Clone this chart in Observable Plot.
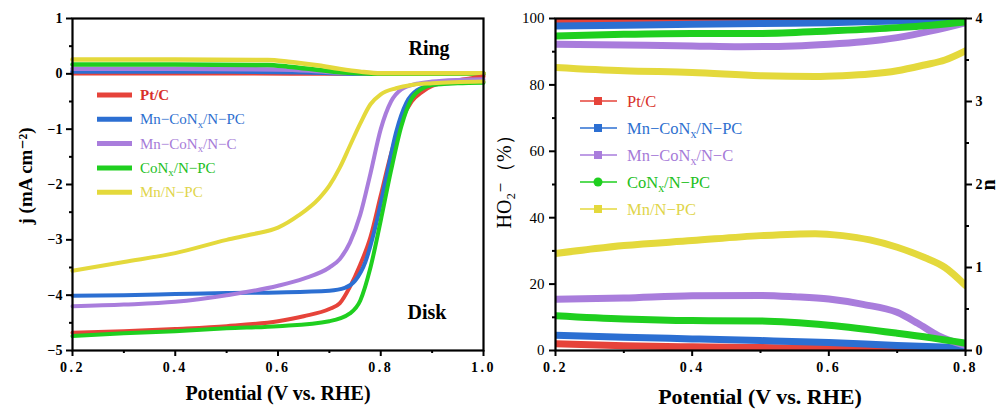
<!DOCTYPE html>
<html>
<head>
<meta charset="utf-8">
<script src="https://cdn.jsdelivr.net/npm/d3@7"></script>
<script src="https://cdn.jsdelivr.net/npm/@observablehq/plot@0.6"></script>
<style>
  html, body { margin: 0; padding: 0; background: #fff; }
  #wrap { position: relative; width: 1000px; height: 411px; overflow: hidden; background: #fff; }
  #left, #right { position: absolute; top: 0; }
  #left { left: 0; }
  #right { left: 500px; }
  svg { overflow: visible; }
  svg text { font-family: "Liberation Serif", "DejaVu Serif", serif; }
</style>
</head>
<body>
<div id="wrap"><div id="left"></div><div id="right"></div></div>
<script>
// ---------- series meta ----------
const seriesNames = ["Pt/C", "Mn−CoN_x/N−PC", "Mn−CoN_x/N−C", "CoN_x/N−PC", "Mn/N−PC"];
const lineColors = ["#e6433a", "#2c6fd2", "#a97ddc", "#1fcf1f", "#e4d93c"];
const textColors = ["#d8302a", "#2e6fcf", "#a67bd8", "#22c022", "#e0d54a"];
const rightMarkers = ["square", "square", "square", "circle", "square"];

// ---------- left panel: disk (LSV) currents, j (mA cm-2) vs V ----------
const diskPtC = [[0.2,-4.68],[0.3,-4.65],[0.4,-4.61],[0.5,-4.56],[0.6,-4.47],[0.65,-4.38],[0.7,-4.25],[0.72,-4.15],[0.74,-3.85],[0.76,-3.45],[0.78,-2.95],[0.8,-2.2],[0.82,-1.45],[0.84,-0.85],[0.86,-0.5],[0.88,-0.33],[0.9,-0.22],[0.95,-0.12],[1.0,-0.05]];
const diskMnCoNPC = [[0.2,-4.01],[0.3,-4.0],[0.4,-3.98],[0.5,-3.96],[0.6,-3.95],[0.7,-3.92],[0.73,-3.87],[0.75,-3.74],[0.77,-3.4],[0.79,-2.75],[0.81,-1.9],[0.83,-1.05],[0.85,-0.52],[0.87,-0.3],[0.9,-0.2],[0.95,-0.16],[1.0,-0.14]];
const diskMnCoNC = [[0.2,-4.2],[0.3,-4.17],[0.4,-4.12],[0.5,-4.0],[0.6,-3.83],[0.65,-3.7],[0.7,-3.5],[0.72,-3.35],[0.74,-3.05],[0.76,-2.55],[0.78,-1.8],[0.8,-1.0],[0.82,-0.5],[0.84,-0.28],[0.87,-0.18],[0.9,-0.14],[0.95,-0.11],[1.0,-0.1]];
const diskCoNPC = [[0.2,-4.74],[0.3,-4.69],[0.4,-4.65],[0.5,-4.6],[0.6,-4.56],[0.7,-4.47],[0.74,-4.33],[0.76,-4.1],[0.78,-3.5],[0.8,-2.65],[0.82,-1.75],[0.84,-0.95],[0.86,-0.45],[0.88,-0.27],[0.9,-0.2],[0.95,-0.17],[1.0,-0.16]];
const diskMnNPC = [[0.2,-3.56],[0.3,-3.4],[0.4,-3.24],[0.5,-3.0],[0.55,-2.9],[0.6,-2.78],[0.64,-2.56],[0.68,-2.25],[0.7,-2.02],[0.72,-1.7],[0.74,-1.3],[0.76,-0.9],[0.78,-0.55],[0.8,-0.37],[0.83,-0.26],[0.86,-0.2],[0.9,-0.17],[1.0,-0.14]];

// ---------- left panel: ring currents ----------
const ringPtC = [[0.2,0.01],[0.5,0.01],[0.7,0.005],[1.0,0.0]];
const ringMnCoNPC = [[0.2,0.04],[0.5,0.04],[0.65,0.03],[0.72,0.01],[0.78,0.0],[1.0,0.0]];
const ringMnCoNC = [[0.2,0.09],[0.4,0.09],[0.6,0.08],[0.66,0.06],[0.72,0.02],[0.76,0.01],[0.8,0.0],[1.0,0.0]];
const ringCoNPC = [[0.2,0.17],[0.4,0.17],[0.58,0.16],[0.62,0.13],[0.68,0.07],[0.72,0.03],[0.76,0.01],[0.8,0.0],[1.0,0.0]];
const ringMnNPC = [[0.2,0.26],[0.4,0.26],[0.58,0.25],[0.62,0.22],[0.68,0.15],[0.72,0.09],[0.76,0.04],[0.8,0.01],[0.85,0.01],[1.0,0.01]];

// ---------- right panel: HO2- yield (%) ----------
const ho2PtC = [[0.2,2.0],[0.3,1.4],[0.4,1.1],[0.5,0.9],[0.6,0.6],[0.7,0.4],[0.8,0.2]];
const ho2MnCoNPC = [[0.2,4.6],[0.3,4.0],[0.4,3.5],[0.5,3.0],[0.6,2.4],[0.7,1.5],[0.8,0.8]];
const ho2MnCoNC = [[0.2,15.4],[0.3,15.8],[0.4,16.5],[0.5,16.6],[0.55,16.2],[0.6,15.5],[0.65,13.9],[0.7,11.5],[0.73,8.2],[0.76,4.5],[0.8,1.5]];
const ho2CoNPC = [[0.2,10.5],[0.3,9.5],[0.4,9.0],[0.5,8.9],[0.6,7.6],[0.7,5.2],[0.75,3.8],[0.8,2.2]];
const ho2MnNPC = [[0.2,29.2],[0.3,31.6],[0.4,33.1],[0.5,34.6],[0.58,35.2],[0.62,34.6],[0.66,33.3],[0.7,31.1],[0.74,28.0],[0.77,25.0],[0.8,19.6]];

// ---------- right panel: electron transfer number n ----------
const nPtC = [[0.2,3.96],[0.3,3.97],[0.4,3.98],[0.5,3.985],[0.6,3.99],[0.8,3.995]];
const nMnCoNPC = [[0.2,3.91],[0.3,3.92],[0.4,3.93],[0.5,3.94],[0.6,3.95],[0.7,3.97],[0.8,3.98]];
const nMnCoNC = [[0.2,3.69],[0.3,3.68],[0.4,3.67],[0.47,3.66],[0.55,3.67],[0.6,3.69],[0.65,3.72],[0.7,3.77],[0.75,3.85],[0.8,3.95]];
const nCoNPC = [[0.2,3.79],[0.3,3.81],[0.4,3.82],[0.5,3.82],[0.6,3.85],[0.7,3.89],[0.75,3.92],[0.8,3.96]];
const nMnNPC = [[0.2,3.41],[0.3,3.37],[0.4,3.35],[0.5,3.31],[0.58,3.30],[0.62,3.31],[0.66,3.33],[0.7,3.37],[0.74,3.44],[0.77,3.5],[0.8,3.61]];

// ---------- ticks ----------
const leftXTicks = [0.2, 0.4, 0.6, 0.8, 1.0];
const leftXMinor = [0.3, 0.5, 0.7, 0.9];
const leftYTicks = [-5, -4, -3, -2, -1, 0, 1];
const leftYMinor = [-4.5, -3.5, -2.5, -1.5, -0.5, 0.5];
const rightXTicks = [0.2, 0.4, 0.6, 0.8];
const rightXMinor = [0.3, 0.5, 0.7];
const pctTicks = [0, 20, 40, 60, 80, 100];
const pctMinor = [10, 30, 50, 70, 90];
const nTicks = [0, 1, 2, 3, 4];
const nMinor = [0.5, 1.5, 2.5, 3.5];

const diskSeries = [diskPtC, diskMnCoNPC, diskMnCoNC, diskCoNPC, diskMnNPC];
const ringSeries = [ringPtC, ringMnCoNPC, ringMnCoNC, ringCoNPC, ringMnNPC];
const ho2Series = [ho2PtC, ho2MnCoNPC, ho2MnCoNC, ho2CoNPC, ho2MnNPC];
const nSeries = [nPtC, nMnCoNPC, nMnCoNC, nCoNPC, nMnNPC];

const toRows = arr => arr.map(([v, y]) => ({v, y}));
const SERIF = "Liberation Serif, DejaVu Serif, serif";
const fmtInt = d => (d < 0 ? "−" + Math.abs(d) : String(d));
const fmtDec = d => d.toFixed(1);

// ---------- left plot ----------
const leftMarks = [];
ringSeries.forEach((s, i) => leftMarks.push(Plot.line(toRows(s), {x: "v", y: "y", stroke: lineColors[i], strokeWidth: 4.5, curve: "monotone-x"})));
diskSeries.forEach((s, i) => leftMarks.push(Plot.line(toRows(s), {x: "v", y: "y", stroke: lineColors[i], strokeWidth: 4, curve: "monotone-x"})));
leftMarks.push(
  Plot.axisX({ticks: leftXTicks, tickSize: 6, tickPadding: 6, strokeWidth: 2, tickFormat: fmtDec, label: null}),
  Plot.axisX({ticks: leftXMinor, tickSize: 3, strokeWidth: 2, tickFormat: () => "", label: null}),
  Plot.axisY({ticks: leftYTicks, tickSize: 6, tickPadding: 4, strokeWidth: 2, tickFormat: fmtInt, label: null}),
  Plot.axisY({ticks: leftYMinor, tickSize: 3, strokeWidth: 2, tickFormat: () => "", label: null}),
  Plot.frame({stroke: "black", strokeWidth: 2.2})
);
const left = Plot.plot({
  width: 500, height: 411,
  marginLeft: 72, marginRight: 17, marginTop: 18, marginBottom: 61,
  x: {domain: [0.2, 1.0]},
  y: {domain: [-5, 1]},
  style: {fontFamily: SERIF, fontSize: "14px", color: "black", background: "white"},
  marks: leftMarks
});
document.getElementById("left").appendChild(left);

// ---------- right plot ----------
const rightMarks = [];
ho2Series.forEach((s, i) => rightMarks.push(Plot.line(toRows(s), {x: "v", y: "y", stroke: lineColors[i], strokeWidth: 7, curve: "monotone-x", clip: true})));
nSeries.forEach((s, i) => rightMarks.push(Plot.line(toRows(s), {x: "v", y: d => d.y * 25, stroke: lineColors[i], strokeWidth: 7, curve: "monotone-x", clip: true})));
rightMarks.push(
  Plot.axisX({ticks: rightXTicks, tickSize: 6, tickPadding: 6, strokeWidth: 2, tickFormat: fmtDec, label: null}),
  Plot.axisX({ticks: rightXMinor, tickSize: 3, strokeWidth: 2, tickFormat: () => "", label: null}),
  Plot.axisY({ticks: pctTicks, tickSize: 6, tickPadding: 5, strokeWidth: 2, tickFormat: fmtInt, label: null}),
  Plot.axisY({ticks: pctMinor, tickSize: 3, strokeWidth: 2, tickFormat: () => "", label: null}),
  Plot.axisY({anchor: "right", ticks: nTicks.map(n => n * 25), tickSize: 6, tickPadding: 4, strokeWidth: 2, tickFormat: d => String(d / 25), label: null}),
  Plot.axisY({anchor: "right", ticks: nMinor.map(n => n * 25), tickSize: 3, strokeWidth: 2, tickFormat: () => "", label: null}),
  Plot.frame({stroke: "black", strokeWidth: 2.2})
);
const right = Plot.plot({
  width: 500, height: 411,
  marginLeft: 55, marginRight: 35, marginTop: 18, marginBottom: 61,
  x: {domain: [0.2, 0.8]},
  y: {domain: [0, 100]},
  style: {fontFamily: SERIF, fontSize: "14px", color: "black", background: "transparent"},
  marks: rightMarks
});
document.getElementById("right").appendChild(right);

// remove the empty labels of the minor-tick axes
[left, right].forEach(svg => {
  d3.select(svg).selectAll("text").filter(function () { return this.textContent === ""; }).remove();
});

// ---------- styling of tick labels ----------
function styleTicks(svg, sel, weight, spacing, size) {
  d3.select(svg).selectAll(sel)
    .style("font-weight", weight).style("font-size", size + "px")
    .style("letter-spacing", spacing + "px");
}
styleTicks(left, '[aria-label="x-axis tick label"]', "bold", 2.5, 14);
styleTicks(left, '[aria-label="y-axis tick label"]', "bold", 0, 14);
styleTicks(right, '[aria-label="x-axis tick label"]', "bold", 2.5, 14);
d3.select(right).selectAll('[aria-label="y-axis tick label"]').each(function () {
  const g = d3.select(this);
  const isRight = g.attr("text-anchor") === "start";
  g.style("font-weight", isRight ? "bold" : "normal").style("font-size", isRight ? "14px" : "15px");
});

// ---------- text helpers ----------
function addRich(sel, str) {
  // "_x" marks a subscript character
  const parts = str.split(/_(.)/);
  let shiftBack = false;
  parts.forEach((p, k) => {
    if (!p) return;
    if (k % 2 === 1) {
      sel.append("tspan").attr("dy", "0.3em").attr("font-size", "0.72em").text(p);
      shiftBack = true;
    } else {
      const t = sel.append("tspan").text(p);
      if (shiftBack) { t.attr("dy", "-0.216em"); shiftBack = false; }
    }
  });
}
function label(g, opts, str) {
  const t = g.append("text").attr("text-anchor", opts.anchor || "middle")
    .style("font-family", SERIF).style("font-size", opts.size + "px")
    .style("font-weight", opts.bold ? "bold" : "normal");
  if (opts.transform) t.attr("transform", opts.transform);
  else t.attr("x", opts.x).attr("y", opts.y);
  if (opts.fill) t.attr("fill", opts.fill);
  t.text(str);
  return t;
}

// ---------- left annotations ----------
const L = d3.select(left);
label(L, {x: 278, y: 400, size: 20, bold: true}, "Potential (V vs. RHE)");
label(L, {transform: "translate(32,176) rotate(-90)", size: 19, bold: true}, "j (mA cm⁻²)");
label(L, {x: 429, y: 55, size: 20, bold: true}, "Ring");
label(L, {x: 427, y: 319, size: 20, bold: true}, "Disk");

const legL = L.append("g");
seriesNames.forEach((name, i) => {
  const y = 95 + i * 24.3;
  legL.append("line").attr("x1", 97).attr("x2", 132).attr("y1", y).attr("y2", y)
    .attr("stroke", lineColors[i]).attr("stroke-width", 5);
  const t = legL.append("text").attr("x", 140).attr("y", y + 5).attr("text-anchor", "start")
    .style("font-family", SERIF).style("font-size", "15px").attr("fill", textColors[i])
    .style("font-weight", i === 0 ? "bold" : "normal");
  addRich(t, name);
});

// ---------- right annotations ----------
const R = d3.select(right);
label(R, {x: 260, y: 404, size: 22, bold: true}, "Potential (V vs. RHE)");
label(R, {transform: "translate(11,177) rotate(-90)", size: 20}, "HO₂⁻（%）");
label(R, {transform: "translate(495,185) rotate(-90)", size: 20, bold: true}, "n");

const legR = R.append("g");
seriesNames.forEach((name, i) => {
  const y = 101 + i * 27;
  legR.append("line").attr("x1", 80).attr("x2", 117).attr("y1", y).attr("y2", y)
    .attr("stroke", lineColors[i]).attr("stroke-width", 1.6);
  if (rightMarkers[i] === "circle") {
    legR.append("circle").attr("cx", 98).attr("cy", y).attr("r", 4.5).attr("fill", lineColors[i]);
  } else {
    legR.append("rect").attr("x", 94).attr("y", y - 4).attr("width", 8).attr("height", 8).attr("fill", lineColors[i]);
  }
  const t = legR.append("text").attr("x", 127).attr("y", y + 6).attr("text-anchor", "start")
    .style("font-family", SERIF).style("font-size", "16.5px").attr("fill", textColors[i]);
  addRich(t, name);
});
</script>
</body>
</html>
